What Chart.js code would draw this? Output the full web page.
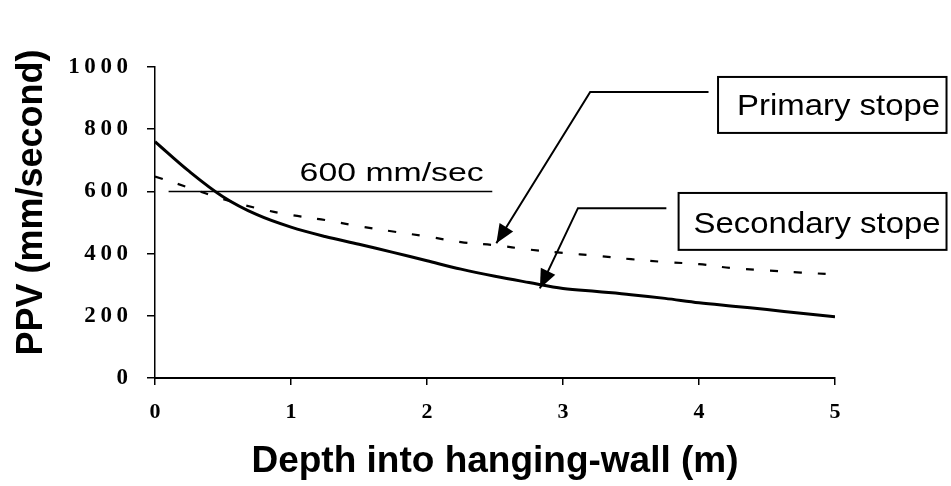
<!DOCTYPE html>
<html>
<head>
<meta charset="utf-8">
<script src="https://cdn.jsdelivr.net/npm/chart.js@4.4.1/dist/chart.umd.min.js"></script>
<style>
html,body{margin:0;padding:0;background:#fff;}
#wrap{width:951px;height:486px;position:relative;}
</style>
</head>
<body>
<div id="wrap"><canvas id="c" width="951" height="486"></canvas></div>
<script>
// ---- Data ----
const depth          = [0, 0.25, 0.5, 0.75, 1.0, 1.25, 1.5, 1.75, 2.0, 2.25, 2.5, 2.75, 3.0, 3.25, 3.5, 3.75, 4.0, 4.25, 4.5, 4.75, 5.0];
const secondaryStope = [760, 665, 583, 525, 485, 455, 430, 404, 377, 350, 327, 307, 288, 278, 268, 256, 242, 231, 220, 208, 197];
const primaryStope   = [648, 612, 575, 546, 524, 508, 488, 471, 455, 437, 427, 413, 402, 393, 382, 373, 366, 353, 346, 339, 333];
const yTicks = [0, 200, 400, 600, 800, 1000];
const xTicks = [0, 1, 2, 3, 4, 5];
const seriesNames = ['Primary stope', 'Secondary stope'];
const thresholdValue = 600;
const thresholdLabel = '600 mm/sec';
const thresholdRange = [0.1, 2.48];
const xTitle = 'Depth into hanging-wall (m)';
const yTitle = 'PPV (mm/second)';

// callouts (positions in data units, converted by the chart's scales)
const callouts = [
  { text: seriesNames[0], tip: [2.51, 433], elbow: [3.2, 920], end: [4.07, 920],
    box: [4.14, 968, 5.82, 788], textAt: [4.28, 846] },
  { text: seriesNames[1], tip: [2.83, 288], elbow: [3.11, 546], end: [3.76, 546],
    box: [3.85, 595, 5.82, 412], textAt: [3.96, 466] }
];

const toPts = (xs, ys) => xs.map((x, i) => ({ x: x, y: ys[i] }));

function arrow(ctx, x1, y1, x2, y2) {
  const ang = Math.atan2(y2 - y1, x2 - x1);
  const len = 19, half = 8;
  const bx = x2 - len * Math.cos(ang), by = y2 - len * Math.sin(ang);
  ctx.beginPath();
  ctx.moveTo(x2, y2);
  ctx.lineTo(bx + half * Math.sin(ang), by - half * Math.cos(ang));
  ctx.lineTo(bx - half * Math.sin(ang), by + half * Math.cos(ang));
  ctx.closePath();
  ctx.fill();
}

const annotationPlugin = {
  id: 'annotations',
  afterDatasetsDraw(chart) {
    const ctx = chart.ctx;
    const xs = chart.scales.x, ys = chart.scales.y;
    const px = v => xs.getPixelForValue(v), py = v => ys.getPixelForValue(v);
    ctx.save();
    ctx.strokeStyle = '#000';
    ctx.fillStyle = '#000';
    // threshold line
    ctx.lineWidth = 1.5;
    ctx.beginPath();
    ctx.moveTo(px(thresholdRange[0]), py(thresholdValue));
    ctx.lineTo(px(thresholdRange[1]), py(thresholdValue));
    ctx.stroke();
    ctx.font = '26px "Liberation Sans", Arial, sans-serif';
    ctx.textAlign = 'center';
    ctx.textBaseline = 'alphabetic';
    ctx.save();
    ctx.translate(px(1.74), py(632));
    ctx.scale(1.3, 1);
    ctx.fillText(thresholdLabel, 0, 0);
    ctx.restore();

    // callouts
    callouts.forEach(c => {
      ctx.lineWidth = 2;
      ctx.beginPath();
      ctx.moveTo(px(c.end[0]), py(c.end[1]));
      ctx.lineTo(px(c.elbow[0]), py(c.elbow[1]));
      ctx.lineTo(px(c.tip[0]), py(c.tip[1]));
      ctx.stroke();
      arrow(ctx, px(c.elbow[0]), py(c.elbow[1]), px(c.tip[0]), py(c.tip[1]));
      const bx1 = px(c.box[0]), by1 = py(c.box[1]), bx2 = px(c.box[2]), by2 = py(c.box[3]);
      ctx.fillStyle = '#fff';
      ctx.fillRect(bx1, by1, bx2 - bx1, by2 - by1);
      ctx.fillStyle = '#000';
      ctx.lineWidth = 2;
      ctx.strokeRect(bx1, by1, bx2 - bx1, by2 - by1);
      ctx.font = '29px "Liberation Sans", Arial, sans-serif';
      ctx.textAlign = 'left';
      ctx.save();
      ctx.translate(px(c.textAt[0]), py(c.textAt[1]));
      ctx.scale(1.135, 1);
      ctx.fillText(c.text, 0, 0);
      ctx.restore();
    });
    ctx.restore();
  }
};

const spaced = v => String(v).split('').join('\u2009');

new Chart(document.getElementById('c'), {
  type: 'line',
  data: {
    datasets: [
      { label: seriesNames[0], data: toPts(depth, primaryStope), borderColor: '#000', borderWidth: 2.2,
        borderDash: [8, 16], pointRadius: 0, tension: 0.35, fill: false },
      { label: seriesNames[1], data: toPts(depth, secondaryStope), borderColor: '#000', borderWidth: 3,
        pointRadius: 0, tension: 0.35, fill: false }
    ]
  },
  options: {
    responsive: false,
    animation: false,
    devicePixelRatio: 1,
    layout: { padding: { top: 67, right: 116, left: 0, bottom: 0 } },
    plugins: { legend: { display: false }, tooltip: { enabled: false } },
    scales: {
      x: {
        type: 'linear', min: 0, max: 5,
        afterFit: s => { s.height = 108; },
        afterBuildTicks: s => { s.ticks = xTicks.map(v => ({ value: v })); },
        ticks: { color: '#000', padding: 14, font: { family: '"Liberation Serif", "Times New Roman", serif', size: 22, weight: 'bold' } },
        grid: { display: true, drawOnChartArea: false, drawTicks: true, tickLength: 7, color: '#000', lineWidth: 1.5 },
        border: { display: true, color: '#000', width: 2 },
        title: { display: true, text: xTitle, color: '#000', padding: { top: 0, bottom: 2 },
                 font: { family: '"Liberation Sans", Arial, sans-serif', size: 37, weight: 'bold' } }
      },
      y: {
        type: 'linear', min: 0, max: 1000,
        afterFit: s => { s.width = 155; },
        afterBuildTicks: s => { s.ticks = yTicks.map(v => ({ value: v })); },
        ticks: { color: '#000', padding: 19, callback: v => spaced(v),
                 font: { family: '"Liberation Serif", "Times New Roman", serif', size: 23, weight: 'bold' } },
        grid: { display: true, drawOnChartArea: false, drawTicks: true, tickLength: 8, color: '#000', lineWidth: 1.5 },
        border: { display: true, color: '#000', width: 1.5 },
        title: { display: true, text: '\u00a0\u00a0\u00a0\u00a0' + yTitle, color: '#000', padding: { top: 10, bottom: 0 },
                 font: { family: '"Liberation Sans", Arial, sans-serif', size: 36, weight: 'bold' } }
      }
    }
  },
  plugins: [annotationPlugin]
});
</script>
</body>
</html>
